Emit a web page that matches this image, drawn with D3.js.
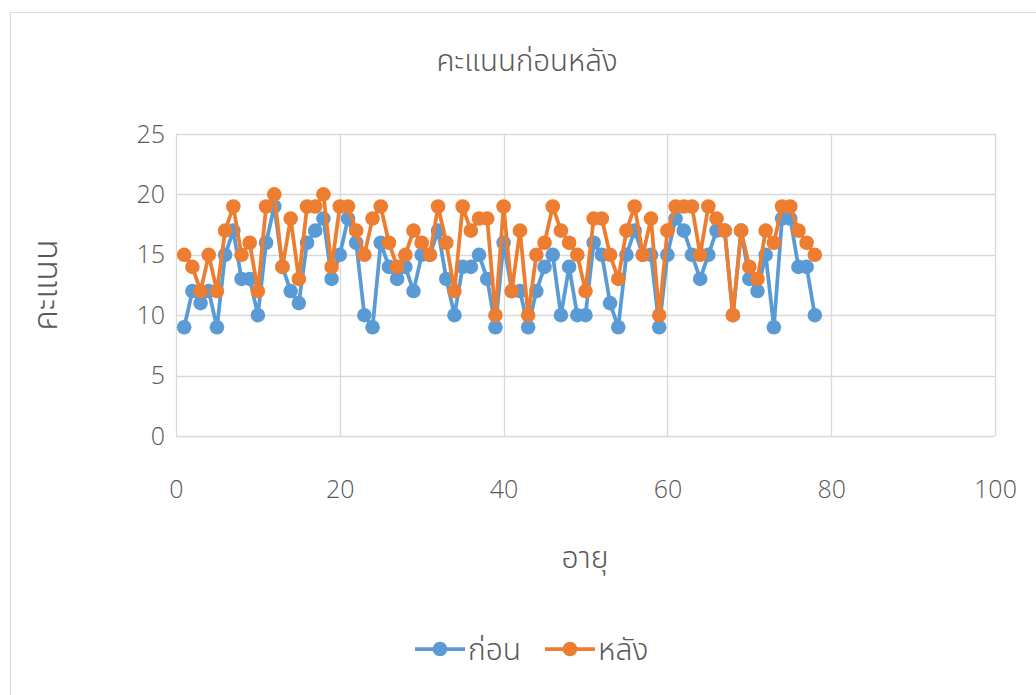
<!DOCTYPE html>
<html><head><meta charset="utf-8">
<script src="https://cdn.jsdelivr.net/npm/d3@7"></script>
<style>body{margin:0;background:#fff;} svg{display:block;} text.th{font-family:"Noto Sans Thai","Noto Sans","DejaVu Sans",sans-serif;font-weight:300;}</style>
</head><body><svg id="c" width="1036" height="695"></svg>
<script>
const ages = d3.range(1, 79);
const before = [9,12,11,12,9,15,17,13,13,10,16,19,14,12,11,16,17,18,13,15,18,16,10,9,16,14,13,14,12,15,15,17,13,10,14,14,15,13,9,16,12,12,9,12,14,15,10,14,10,10,16,15,11,9,15,17,15,15,9,15,18,17,15,13,15,17,17,10,17,13,12,15,9,18,18,14,14,10];
const after = [15,14,12,15,12,17,19,15,16,12,19,20,14,18,13,19,19,20,14,19,19,17,15,18,19,16,14,15,17,16,15,19,16,12,19,17,18,18,10,19,12,17,10,15,16,19,17,16,15,12,18,18,15,13,17,19,15,18,10,17,19,19,19,15,19,18,17,10,17,14,13,17,16,19,19,17,16,15];
const xTicks = [0,20,40,60,80,100];
const yTicks = [0,5,10,15,20,25];
const seriesNames = ["ก่อน","หลัง"];
const colors = ["#5b9bd5","#ed7d31"];
const NUMFONT = '"Open Sans","Noto Sans",sans-serif';

const svg = d3.select("#c");
svg.append("rect").attr("x",10.5).attr("y",12.5).attr("width",1030).attr("height",700)
  .attr("fill","#fff").attr("stroke","#d9d9d9");

const x = d3.scaleLinear().domain([0,100]).range([176,995]);
const y = d3.scaleLinear().domain([0,25]).range([436,134]);

const grid = svg.append("g");
grid.selectAll("line.h").data(yTicks).join("line")
  .attr("x1",x(0)).attr("x2",x(100)).attr("y1",d=>Math.round(y(d))+0.5).attr("y2",d=>Math.round(y(d))+0.5)
  .attr("stroke","#d9d9d9").attr("stroke-width",1.3);
grid.selectAll("line.v").data(xTicks).join("line")
  .attr("y1",y(0)).attr("y2",y(25)).attr("x1",d=>Math.round(x(d))+0.5).attr("x2",d=>Math.round(x(d))+0.5)
  .attr("stroke","#d9d9d9").attr("stroke-width",1.3);

const ax = svg.append("g").attr("transform",`translate(0,${y(0)})`)
  .call(d3.axisBottom(x).tickValues(xTicks).tickSize(0).tickPadding(44));
ax.select(".domain").remove();
ax.selectAll("text").attr("font-size",25).attr("fill","#595959").style("font-family",NUMFONT).style("font-weight",300);

const ay = svg.append("g").attr("transform",`translate(${x(0)},0)`)
  .call(d3.axisLeft(y).tickValues(yTicks).tickSize(0).tickPadding(11));
ay.select(".domain").remove();
ay.selectAll("text").attr("font-size",25).attr("fill","#595959").style("font-family",NUMFONT).style("font-weight",300);

svg.append("text").attr("class","th").attr("x",527).attr("y",71).attr("text-anchor","middle")
  .attr("font-size",29.5).attr("fill","#595959").text("คะแนนก่อนหลัง");
svg.append("text").attr("class","th").attr("x",585).attr("y",568).attr("text-anchor","middle")
  .attr("font-size",30).attr("fill","#595959").text("อายุ");
svg.append("text").attr("class","th").attr("transform","translate(57,285) rotate(-90)").attr("text-anchor","middle")
  .attr("font-size",34).attr("fill","#595959").text("คะแนน");

const line = d3.line().x((d,i)=>x(ages[i])).y(d=>y(d));
[before, after].forEach((s,k)=>{
  const g = svg.append("g");
  g.append("path").datum(s).attr("d",line).attr("fill","none")
    .attr("stroke",colors[k]).attr("stroke-width",3.75).attr("stroke-linejoin","round");
  g.selectAll("circle").data(s).join("circle")
    .attr("cx",(d,i)=>x(ages[i])).attr("cy",d=>y(d)).attr("r",7.3).attr("fill",colors[k]);
});

const leg = [{x:415},{x:545}];
seriesNames.forEach((n,k)=>{
  const lx = leg[k].x;
  svg.append("line").attr("x1",lx).attr("x2",lx+50).attr("y1",649).attr("y2",649)
    .attr("stroke",colors[k]).attr("stroke-width",3.75);
  svg.append("circle").attr("cx",lx+25).attr("cy",649).attr("r",7.3).attr("fill",colors[k]);
  svg.append("text").attr("class","th").attr("x",lx+53).attr("y",660).attr("font-size",30).attr("fill","#595959").text(n);
});
</script></body></html>
